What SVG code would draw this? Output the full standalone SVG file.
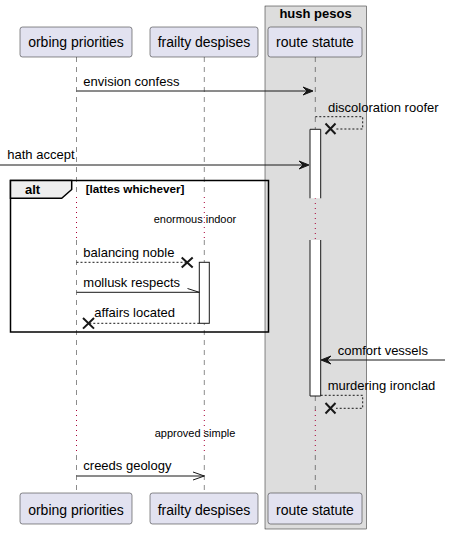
<svg xmlns="http://www.w3.org/2000/svg" width="450" height="534" viewBox="0 0 450 534">
<style>
text{font-family:"Liberation Sans",Arial,sans-serif;fill:#000}
.pt{font-size:14px}
.msg{font-size:13px}
.dl{font-size:11px}
.cond{font-size:11.7px;font-weight:bold}
.b{font-weight:bold}
.part{fill:#E2E2F0;stroke:#181818;stroke-width:0.5}
.life{stroke:#181818;stroke-width:0.5;stroke-dasharray:5,5;fill:none}
.delay{stroke:#A80036;stroke-width:1;stroke-dasharray:1,4;fill:none}
.line{stroke:#181818;stroke-width:1;fill:none}
.dash{stroke:#181818;stroke-width:1;stroke-dasharray:2,2;fill:none}
.x{stroke:#181818;stroke-width:2;fill:none}
.head{fill:#181818;stroke:#181818;stroke-width:1}
.act{fill:#FFFFFF;stroke:#181818;stroke-width:1}
</style>
<g id="box-hush-pesos">
<rect x="265" y="6" width="101.5" height="523" fill="#DDDDDD" stroke="#181818" stroke-width="0.5"/>
<text class="msg b" x="315.5" y="18" text-anchor="middle">hush pesos</text>
</g>
<g id="lifelines">
<path class="life" d="M76.5,57 V197 M76.5,240 V410 M76.5,455 V493"/>
<path class="delay" d="M76.5,197 V240 M76.5,410 V455"/>
<path class="life" d="M204.3,57 V197 M204.3,240 V410 M204.3,455 V493"/>
<path class="delay" d="M204.3,197 V240 M204.3,410 V455"/>
<path class="life" d="M315.3,57 V129 M315.3,396 V410 M315.3,455 V493"/>
<path class="delay" d="M315.3,198 V240 M315.3,410 V455"/>
</g>
<g id="activations">
<rect x="310" y="129.3" width="10.7" height="69" fill="#FFFFFF"/>
<path class="line" d="M310,198.3 V129.3 H320.7 V198.3"/>
<rect x="310" y="240" width="10.7" height="156" fill="#FFFFFF"/>
<path class="line" d="M310,240 V396 H320.7 V240"/>
<rect class="act" x="199.3" y="262.3" width="10" height="61"/>
</g>
<g id="p-orbing-priorities">
<rect class="part" x="20" y="27" width="112" height="30" rx="2.5"/>
<text class="pt" x="76" y="47" text-anchor="middle">orbing priorities</text>
<rect class="part" x="20" y="493" width="112" height="31" rx="2.5"/>
<text class="pt" x="76" y="515" text-anchor="middle">orbing priorities</text>
</g>
<g id="p-frailty-despises">
<rect class="part" x="150" y="27" width="108" height="30" rx="2.5"/>
<text class="pt" x="204" y="47" text-anchor="middle">frailty despises</text>
<rect class="part" x="150" y="493" width="108" height="31" rx="2.5"/>
<text class="pt" x="204" y="515" text-anchor="middle">frailty despises</text>
</g>
<g id="p-route-statute">
<rect class="part" x="268" y="27" width="94" height="30" rx="2.5"/>
<text class="pt" x="315" y="47" text-anchor="middle">route statute</text>
<rect class="part" x="268" y="493" width="94" height="31" rx="2.5"/>
<text class="pt" x="315" y="515" text-anchor="middle">route statute</text>
</g>
<g id="alt-frame">
<rect x="10.5" y="180.5" width="258" height="151.5" fill="none" stroke="#000000" stroke-width="1.5"/>
<polygon points="10.5,180.5 71.7,180.5 71.7,189.5 61.7,198.3 10.5,198.3" fill="#EEEEEE" stroke="#000000" stroke-width="1.5"/>
<text class="msg b" x="25" y="194">alt</text>
<text class="cond" x="85.7" y="192.7">[lattes whichever]</text>
</g>
<g id="delays">
<text class="dl" x="195" y="223.3" text-anchor="middle">enormous indoor</text>
<text class="dl" x="195" y="436.7" text-anchor="middle">approved simple</text>
</g>
<g id="connectors">
<g id="m1">
<line class="line" x1="76.5" y1="91" x2="312" y2="91"/>
<polygon class="head" points="303,87 313,91 303,95 307,91"/>
<text class="msg" x="83.3" y="85.5">envision confess</text>
</g>
<g id="m2">
<path class="dash" d="M315.3,116.7 H362.7 V129 H336"/>
<path class="x" d="M325.5,123.5 L335.5,134 M325.5,134 L335.5,123.5"/>
<text class="msg" x="328" y="112">discoloration roofer</text>
</g>
<g id="m3">
<line class="line" x1="0" y1="165" x2="308" y2="165"/>
<polygon class="head" points="299,161 309,165 299,169 303,165"/>
<text class="msg" x="7.3" y="159.3">hath accept</text>
</g>
<g id="m4">
<line class="dash" x1="76.5" y1="262.3" x2="186" y2="262.3"/>
<path class="x" d="M181.7,257.5 L192.7,267.5 M181.7,267.5 L192.7,257.5"/>
<text class="msg" x="83.3" y="257.3">balancing noble</text>
</g>
<g id="m5">
<line class="line" x1="76.5" y1="292.3" x2="199.3" y2="292.3"/>
<line class="line" x1="187.5" y1="288.5" x2="199.3" y2="292.3"/>
<text class="msg" x="83.3" y="287.3">mollusk respects</text>
</g>
<g id="m6">
<line class="dash" x1="199.3" y1="323.3" x2="89" y2="323.3"/>
<path class="x" d="M83,318 L94,328.6 M83,328.6 L94,318"/>
<text class="msg" x="94.3" y="317.3">affairs located</text>
</g>
<g id="m7">
<line class="line" x1="445" y1="360" x2="322" y2="360"/>
<polygon class="head" points="321,360 331,356 327,360 331,364"/>
<text class="msg" x="337.7" y="355">comfort vessels</text>
</g>
<g id="m8">
<path class="dash" d="M320.7,395.3 H362.7 V408.3 H336"/>
<path class="x" d="M325.5,403 L335.5,413.5 M325.5,413.5 L335.5,403"/>
<text class="msg" x="327.7" y="390">murdering ironclad</text>
</g>
<g id="m9">
<line class="line" x1="76.5" y1="476" x2="204.3" y2="476"/>
<path class="line" d="M193,472 L204.3,476 L193,480"/>
<text class="msg" x="83.3" y="470">creeds geology</text>
</g>
</g>
</svg>
